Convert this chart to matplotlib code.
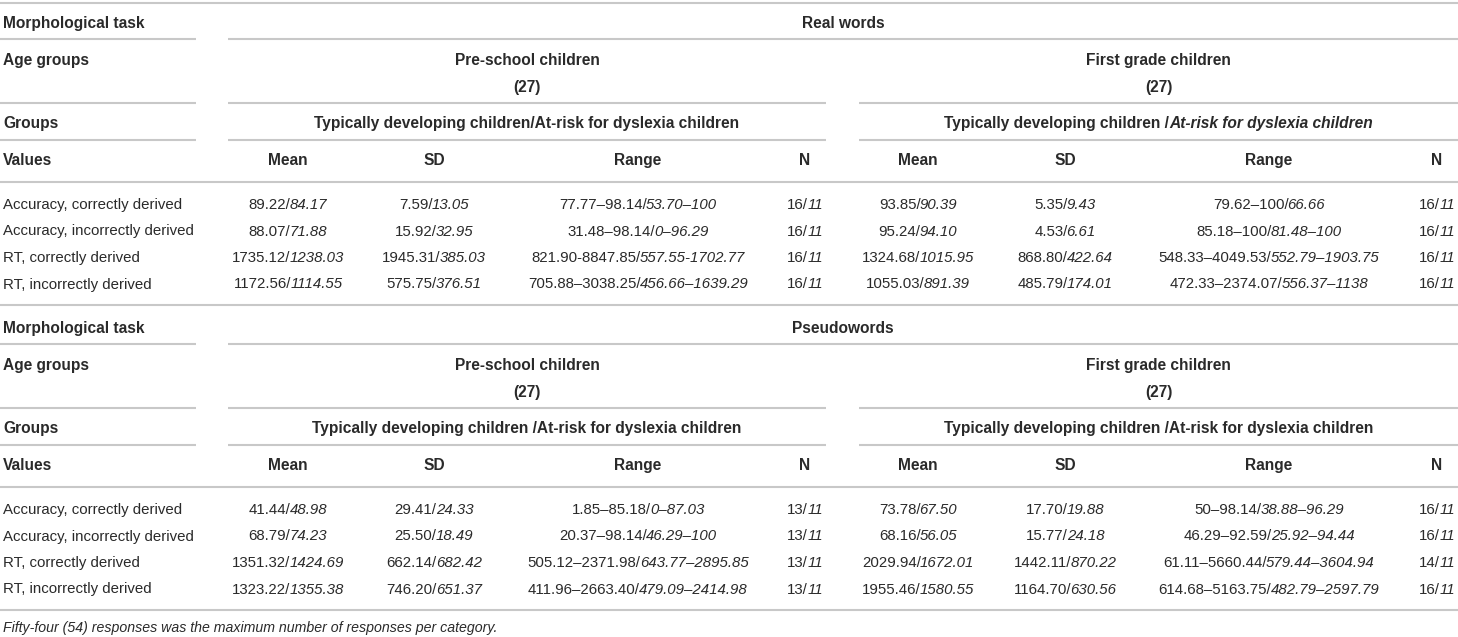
import matplotlib
matplotlib.use("Agg")
import matplotlib.pyplot as plt

plt.rcParams["font.family"] = ["Liberation Sans", "DejaVu Sans"]

row_labels = ["Accuracy, correctly derived", "Accuracy, incorrectly derived",
              "RT, correctly derived", "RT, incorrectly derived"]
stat_names = ["Mean", "SD", "Range", "N"]

# real words
rw_pre_mean = ["89.22/84.17", "88.07/71.88", "1735.12/1238.03", "1172.56/1114.55"]
rw_pre_sd = ["7.59/13.05", "15.92/32.95", "1945.31/385.03", "575.75/376.51"]
rw_pre_range = ["77.77–98.14/53.70–100", "31.48–98.14/0–96.29",
                "821.90-8847.85/557.55-1702.77", "705.88–3038.25/456.66–1639.29"]
rw_pre_n = ["16/11", "16/11", "16/11", "16/11"]
rw_first_mean = ["93.85/90.39", "95.24/94.10", "1324.68/1015.95", "1055.03/891.39"]
rw_first_sd = ["5.35/9.43", "4.53/6.61", "868.80/422.64", "485.79/174.01"]
rw_first_range = ["79.62–100/66.66", "85.18–100/81.48–100",
                  "548.33–4049.53/552.79–1903.75", "472.33–2374.07/556.37–1138"]
rw_first_n = ["16/11", "16/11", "16/11", "16/11"]

# pseudowords
pw_pre_mean = ["41.44/48.98", "68.79/74.23", "1351.32/1424.69", "1323.22/1355.38"]
pw_pre_sd = ["29.41/24.33", "25.50/18.49", "662.14/682.42", "746.20/651.37"]
pw_pre_range = ["1.85–85.18/0–87.03", "20.37–98.14/46.29–100",
                "505.12–2371.98/643.77–2895.85", "411.96–2663.40/479.09–2414.98"]
pw_pre_n = ["13/11", "13/11", "13/11", "13/11"]
pw_first_mean = ["73.78/67.50", "68.16/56.05", "2029.94/1672.01", "1955.46/1580.55"]
pw_first_sd = ["17.70/19.88", "15.77/24.18", "1442.11/870.22", "1164.70/630.56"]
pw_first_range = ["50–98.14/38.88–96.29", "46.29–92.59/25.92–94.44",
                  "61.11–5660.44/579.44–3604.94", "614.68–5163.75/482.79–2597.79"]
pw_first_n = ["16/11", "16/11", "14/11", "16/11"]

footnote = "Fifty-four (54) responses was the maximum number of responses per category."

TXT = "#2a2a2a"
LINE = "#c8c8c8"
FS = 10.8
FSB = 11.2

fig = plt.figure(figsize=(14.58, 6.37), dpi=100)
ax = fig.add_axes([0, 0, 1, 1])
ax.set_xlim(0, 1458)
ax.set_ylim(637, 0)
ax.axis("off")
renderer = fig.canvas.get_renderer()

col_x = [288, 434, 638, 805, 918, 1065, 1269, 1437]
left_x = 3
seg_pre = (228, 826)
seg_first = (859, 1458)


def hline(y, x0=0, x1=1458):
    ax.plot([x0, x1], [y, y], color=LINE, lw=1.5, solid_capstyle="butt")


def mixed(cx, y, parts, center=True, kern=0.0):
    texts = []
    for s, st in parts:
        t = ax.text(0, y + 5, s, va="baseline", ha="left", color=TXT, **st)
        texts.append(t)
    widths = [t.get_window_extent(renderer).width + kern for t in texts]
    widths[-1] -= kern
    x = cx - sum(widths) / 2 if center else cx
    for t, w in zip(texts, widths):
        t.set_x(x)
        x += w


def cell(cx, y, s):
    a, b = s.split("/", 1)
    mixed(cx, y, [(a + "/", dict(fontsize=FS)), (b, dict(fontsize=FS, style="italic"))],
          kern=-0.8)


def bold(x, y, s, ha="left"):
    ax.text(x, y + 5, s, va="baseline", ha=ha, color=TXT, fontsize=FSB, fontweight="bold")


def block(y0, task, pre_group, first_group, cols):
    # y0 = y of the top rule
    task_y = y0 + 20
    bold(left_x, task_y, "Morphological task")
    bold((seg_pre[0] + seg_first[1]) / 2, task_y, task, ha="center")
    hline(y0 + 36, 0, 196)
    hline(y0 + 36, 228, 1458)
    age_y = y0 + 57
    bold(left_x, age_y, "Age groups")
    bold(sum(seg_pre) / 2, age_y, "Pre-school children", ha="center")
    bold(sum(seg_first) / 2, age_y, "First grade children", ha="center")
    bold(sum(seg_pre) / 2, age_y + 27, "(27)", ha="center")
    bold(sum(seg_first) / 2, age_y + 27, "(27)", ha="center")
    for yy in (y0 + 100, y0 + 137):
        hline(yy, 0, 196)
        hline(yy, *seg_pre)
        hline(yy, *seg_first)
    grp_y = y0 + 120
    bold(left_x, grp_y, "Groups")
    for cx, parts in ((sum(seg_pre) / 2, pre_group), (sum(seg_first) / 2, first_group)):
        mixed(cx, grp_y, [(s, dict(fontsize=FSB, fontweight="bold", style=st)) for s, st in parts])
    val_y = y0 + 157
    bold(left_x, val_y, "Values")
    for i, name in enumerate(stat_names * 2):
        bold(col_x[i], val_y, name, ha="center")
    hline(y0 + 179)
    for r, lab in enumerate(row_labels):
        ry = y0 + 201 + r * 26.5
        ax.text(left_x, ry + 5, lab, va="baseline", ha="left", color=TXT, fontsize=FS)
        for c, vals in enumerate(cols):
            cell(col_x[c], ry, vals[r])
    hline(y0 + 302)


hline(3)
block(3, "Real words",
      [("Typically developing children/At-risk for dyslexia children", "normal")],
      [("Typically developing children /", "normal"), ("At-risk for dyslexia children", "italic")],
      [rw_pre_mean, rw_pre_sd, rw_pre_range, rw_pre_n,
       rw_first_mean, rw_first_sd, rw_first_range, rw_first_n])
block(308, "Pseudowords",
      [("Typically developing children /At-risk for dyslexia children", "normal")],
      [("Typically developing children /At-risk for dyslexia children", "normal")],
      [pw_pre_mean, pw_pre_sd, pw_pre_range, pw_pre_n,
       pw_first_mean, pw_first_sd, pw_first_range, pw_first_n])

ax.text(left_x, 628 + 4, footnote, va="baseline", ha="left", color=TXT,
        fontsize=10.2, style="italic")

fig.savefig("out.png", dpi=100)
